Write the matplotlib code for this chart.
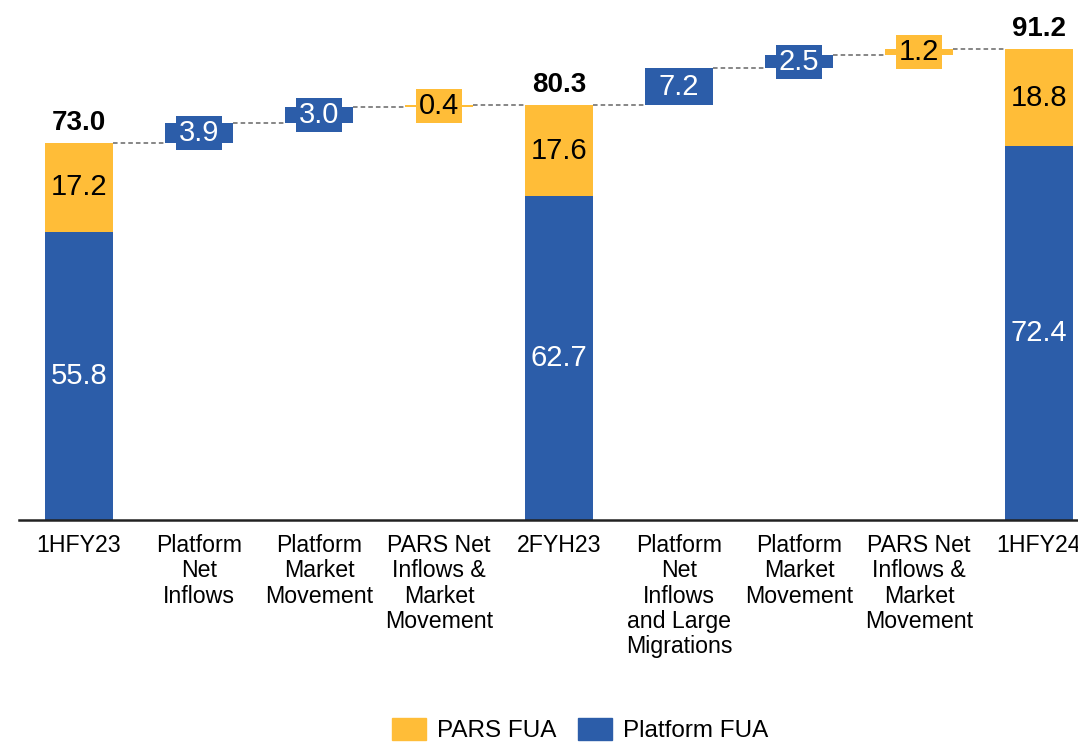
import matplotlib
matplotlib.use("Agg")
import matplotlib.pyplot as plt
from matplotlib.patches import Patch

plt.rcParams['font.family'] = ['Liberation Sans', 'DejaVu Sans']

# Data
labels = ['1HFY23', 'Platform\nNet\nInflows', 'Platform\nMarket\nMovement',
          'PARS Net\nInflows &\nMarket\nMovement', '2FYH23',
          'Platform\nNet\nInflows\nand Large\nMigrations', 'Platform\nMarket\nMovement',
          'PARS Net\nInflows &\nMarket\nMovement', '1HFY24']
total_idx = [0, 4, 8]
platform_fua = [55.8, 62.7, 72.4]
pars_fua = [17.2, 17.6, 18.8]
totals = [73.0, 80.3, 91.2]
step_idx = [1, 2, 3, 5, 6, 7]
step_vals = [3.9, 3.0, 0.4, 7.2, 2.5, 1.2]
step_series = ['Platform', 'Platform', 'PARS', 'Platform', 'Platform', 'PARS']

BLUE = '#2C5DA9'
YELLOW = '#FFBD38'
colors = {'Platform': BLUE, 'PARS': YELLOW}
W = 0.56
FS = 21

fig = plt.figure(figsize=(10.78, 7.42), dpi=100)
ax = fig.add_axes([19 / 1078, 222 / 742, 1080 / 1078, 516.5 / 742])
ax.set_xlim(-0.5, 8.5)
ax.set_ylim(0, 100)

# totals (stacked)
for i, p, s, t in zip(total_idx, platform_fua, pars_fua, totals):
    ax.bar(i, p, width=W, color=BLUE)
    ax.bar(i, s, bottom=p, width=W, color=YELLOW)
    ax.text(i, p / 2, f'{p:.1f}', ha='center', va='center', color='white', fontsize=FS)
    ax.text(i, p + s / 2, f'{s:.1f}', ha='center', va='center', color='black', fontsize=FS)
    ax.annotate(f'{t:.1f}', (i, t), xytext=(0, 5), textcoords='offset points',
                ha='center', va='bottom', fontsize=FS - 1, fontweight='bold')

# floating steps
level = {}
cur = None
for i in range(len(labels)):
    if i in total_idx:
        cur = totals[total_idx.index(i)]
    else:
        k = step_idx.index(i)
        v = step_vals[k]
        c = colors[step_series[k]]
        ax.bar(i, v, bottom=cur, width=W, color=c)
        tc = 'white' if step_series[k] == 'Platform' else 'black'
        ax.text(i, cur + v / 2, f'{v:.1f}', ha='center', va='center', color=tc, fontsize=FS,
                bbox=dict(boxstyle='square,pad=0.1', fc=c, ec='none'))
        cur = cur + v
    level[i] = cur

# connectors
for i in range(len(labels) - 1):
    ax.plot([i + W / 2, i + 1 - W / 2], [level[i], level[i]], color='#666666',
            lw=1.1, ls=(0, (3, 2)), zorder=0)

ax.set_xticks(range(len(labels)))
ax.set_xticklabels(labels, fontsize=16.7, linespacing=1.13)
ax.tick_params(axis='x', length=0, pad=10)
ax.set_yticks([])
for sp in ['left', 'right', 'top']:
    ax.spines[sp].set_visible(False)
ax.spines['bottom'].set_linewidth(1.8)
ax.spines['bottom'].set_color('#222222')

handles = [Patch(color=YELLOW, label='PARS FUA'), Patch(color=BLUE, label='Platform FUA')]
fig.legend(handles=handles, loc='center', bbox_to_anchor=(580 / 1078, 12 / 742), ncol=2,
           frameon=False, fontsize=17.5, handlelength=1.4, handleheight=1.0,
           handletextpad=0.45, columnspacing=0.9)

fig.savefig('out.png', dpi=100)
